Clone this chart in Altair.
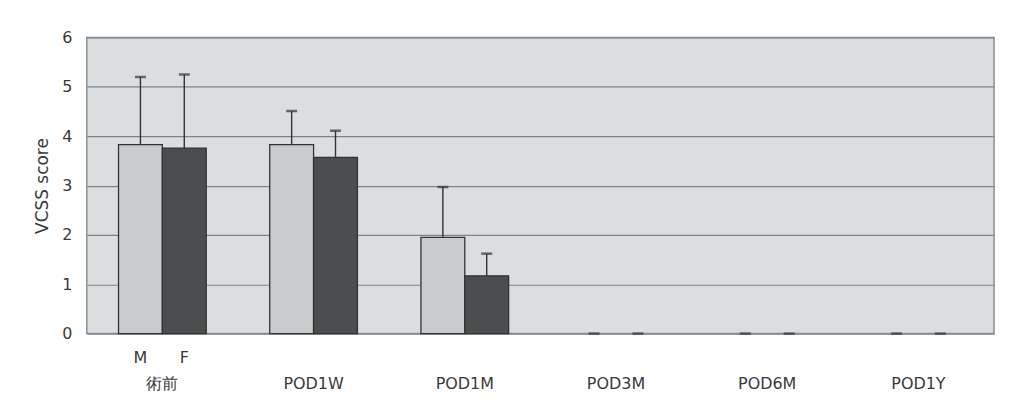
import altair as alt
import pandas as pd

categories = ["術前", "POD1W", "POD1M", "POD3M", "POD6M", "POD1Y"]
sexes = ["M", "F"]
m_mean = [3.83, 3.83, 1.95, 0, 0, 0]
m_sd = [1.37, 0.68, 1.02, 0, 0, 0]
f_mean = [3.76, 3.57, 1.17, 0, 0, 0]
f_sd = [1.49, 0.54, 0.45, 0, 0, 0]
y_ticks = [0, 1, 2, 3, 4, 5, 6]

rows = []
for i, c in enumerate(categories):
    rows.append({"cat": c, "sex": "M", "mean": m_mean[i], "upper": m_mean[i] + m_sd[i]})
    rows.append({"cat": c, "sex": "F", "mean": f_mean[i], "upper": f_mean[i] + f_sd[i]})
df = pd.DataFrame(rows)
lab = pd.DataFrame({"cat": [categories[0]] * 2, "sex": sexes})

W, H = 910, 297
FONT = "DejaVu Sans"
TXT = "#3a3a3a"

xenc = alt.X("cat:N", sort=categories, title=None,
             scale=alt.Scale(paddingInner=0.42, paddingOuter=0.21),
             axis=alt.Axis(labelAngle=0, ticks=False, domain=False, labelPadding=42,
                           labelFontSize=16, labelColor=TXT, labelFont=FONT))
xoff = alt.XOffset("sex:N", sort=sexes, scale=alt.Scale(paddingInner=0, paddingOuter=0))
yscale = alt.Scale(domain=[0, 6], nice=False)

bars = alt.Chart(df).transform_filter(alt.datum.mean > 0).mark_bar(
    stroke="#333", strokeWidth=1.3).encode(
    x=xenc, xOffset=xoff,
    y=alt.Y("mean:Q", scale=yscale, title="VCSS score",
            axis=alt.Axis(values=y_ticks, ticks=False, domain=False, grid=True,
                          gridColor="#7f8385", gridWidth=1.2, labelFontSize=16,
                          labelColor=TXT, labelFont=FONT, labelPadding=15,
                          titleFont=FONT, titleFontSize=17, titleFontWeight="normal",
                          titleColor=TXT, titlePadding=10)),
    color=alt.Color("sex:N", sort=sexes, legend=None,
                    scale=alt.Scale(domain=sexes, range=["#c8cccc", "#4b4e4e"])),
)

rules = alt.Chart(df).mark_rule(color="#333", strokeWidth=1.4).encode(
    x=alt.X("cat:N", sort=categories), xOffset=xoff,
    y=alt.Y("mean:Q", scale=yscale), y2="upper:Q")

caps = alt.Chart(df).mark_tick(color="#333", thickness=2.5, size=11).encode(
    x=alt.X("cat:N", sort=categories), xOffset=xoff,
    y=alt.Y("upper:Q", scale=yscale))

mf = alt.Chart(lab).mark_text(fontSize=16, color=TXT, font=FONT, baseline="middle").encode(
    x=alt.X("cat:N", sort=categories), xOffset=xoff,
    text="sex:N", y=alt.value(H + 24))

chart = alt.layer(bars, rules, caps, mf).properties(
    width=W, height=H,
    background="white",
    autosize=alt.AutoSizeParams(type="none"),
    padding={"left": 79, "top": 29, "right": 10, "bottom": 60},
).configure_view(fill="#dadee0", stroke="#8c9092", strokeWidth=1.5)

chart.save("out.html", embed_options={"renderer": "svg", "actions": False})
